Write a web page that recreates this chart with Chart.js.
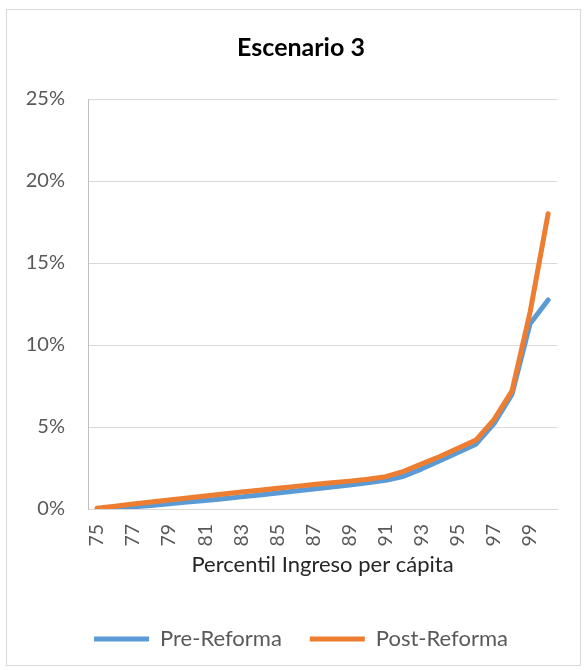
<!DOCTYPE html>
<html>
<head>
<meta charset="utf-8">
<script src="https://cdn.jsdelivr.net/npm/chart.js@4/dist/chart.umd.min.js"></script>
<style>
  html, body { margin: 0; padding: 0; background: #fff; }
  #wrap { position: relative; width: 587px; height: 670px; }
</style>
</head>
<body>
<div id="wrap"><canvas id="chart" width="587" height="670"></canvas></div>
<script>
'use strict';

// percentiles of per-capita income
const PERCENTILES = ['75','76','77','78','79','80','81','82','83','84','85','86','87',
                     '88','89','90','91','92','93','94','95','96','97','98','99','100'];
// share, in %
const PRE_REFORMA  = [0.00, 0.05, 0.13, 0.22, 0.32, 0.42, 0.52, 0.62, 0.74, 0.86, 0.98, 1.10, 1.22,
                      1.34, 1.46, 1.60, 1.75, 2.00, 2.45, 2.95, 3.45, 3.95, 5.20, 7.00, 11.30, 12.75];
const POST_REFORMA = [0.04, 0.17, 0.30, 0.43, 0.55, 0.67, 0.79, 0.91, 1.03, 1.15, 1.27, 1.38, 1.49,
                      1.60, 1.70, 1.82, 1.97, 2.30, 2.75, 3.20, 3.70, 4.20, 5.45, 7.20, 12.00, 18.00];
const Y_TICKS = [0, 5, 10, 15, 20, 25];

const BLUE   = '#5B9BD5';
const ORANGE = '#ED7D31';
const TEXT   = '#595959';
const GRID   = '#D9D9D9';
const FONT   = 'Lato, "Open Sans", sans-serif';

// white background + thin frame around the chart
const frame = {
  id: 'frame',
  beforeDraw(chart) {
    const c = chart.ctx;
    c.save();
    c.fillStyle = '#fff';
    c.fillRect(0, 0, chart.width, chart.height);
    c.strokeStyle = GRID;
    c.lineWidth = 1;
    c.strokeRect(6.5, 9.5, 574, 656);
    c.restore();
  }
};

new Chart(document.getElementById('chart'), {
  type: 'line',
  data: {
    labels: PERCENTILES,
    datasets: [
      { label: 'Pre-Reforma', data: PRE_REFORMA, borderColor: BLUE, backgroundColor: BLUE,
        borderWidth: 5, borderCapStyle: 'round', borderJoinStyle: 'round',
        pointRadius: 0, tension: 0, order: 1 },
      { label: 'Post-Reforma', data: POST_REFORMA, borderColor: ORANGE, backgroundColor: ORANGE,
        borderWidth: 5, borderCapStyle: 'round', borderJoinStyle: 'round',
        pointRadius: 0, tension: 0, order: 0 },
    ]
  },
  options: {
    responsive: false,
    animation: false,
    // uneven side padding so title/legend sit where the original has them
    layout: { padding: { left: 15, right: 0, top: 0, bottom: 10 } },
    plugins: {
      title: {
        display: true, text: 'Escenario 3', color: '#000',
        font: { family: FONT, size: 25, weight: 'bold', lineHeight: 1.2 },
        padding: { top: 33, bottom: 36 }
      },
      legend: {
        position: 'bottom',
        labels: {
          color: TEXT, font: { family: FONT, size: 22, lineHeight: 1.2 },
          usePointStyle: true, pointStyle: 'line', pointStyleWidth: 55,
          padding: 28,
          sort: (a, b) => a.datasetIndex - b.datasetIndex,
        }
      },
      tooltip: { enabled: false }
    },
    scales: {
      x: {
        offset: true,
        afterFit: s => { s.height = 91; },
        grid: { display: false, drawTicks: false },
        border: { color: GRID },
        ticks: {
          color: TEXT, font: { family: FONT, size: 19.5 },
          autoSkip: false, minRotation: 90, maxRotation: 90, padding: 15,
          callback: (v, i) => (i % 2 === 0 ? PERCENTILES[i] : '')
        },
        title: {
          display: true, text: 'Percentil Ingreso per cápita', color: '#262626',
          font: { family: FONT, size: 22, lineHeight: 1.2 }, padding: { top: 6, bottom: 22 }
        }
      },
      y: {
        min: 0, max: 25,
        afterFit: s => { s.width = 73; },
        afterBuildTicks: s => { s.ticks = Y_TICKS.map(v => ({ value: v })); },
        grid: { color: GRID, drawTicks: false },
        border: { color: '#BFBFBF' },
        ticks: {
          color: TEXT, font: { family: FONT, size: 20 }, padding: 23,
          callback: v => v + '%'
        }
      },
      // empty right-hand gutter, keeps the plot's right edge at x=562
      gutter: {
        type: 'linear', position: 'right',
        afterFit: s => { s.width = 25; },
        grid: { display: false, drawTicks: false },
        border: { display: false },
        ticks: { display: false }
      }
    }
  },
  plugins: [frame]
});
</script>
</body>
</html>
